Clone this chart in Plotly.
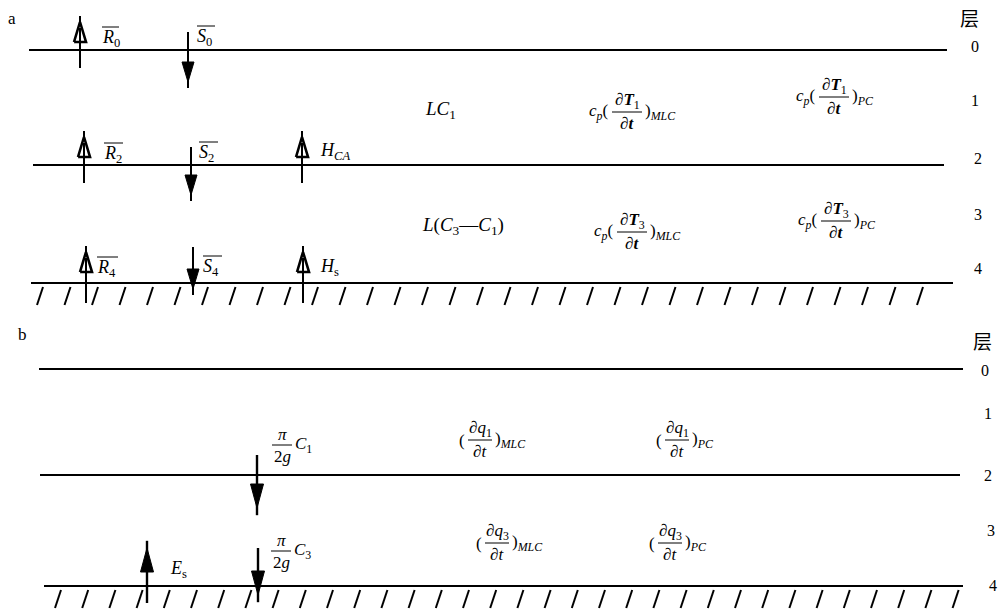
import plotly.graph_objects as go

FIG_W, FIG_H = 1004, 611
SERIF = "Liberation Serif"
CJK = "Noto Sans CJK SC"

# ---------------- panel a ----------------
a_line_y = [50, 165, 283]
a_line_x0 = [29, 33, 31]
a_line_x1 = [947, 944, 953]
a_hatch_start, a_hatch_end, a_hatch_step = 40, 945, 27.5
a_hatch_top, a_hatch_bot = 287, 305

a_layer_text = ["层", "0", "1", "2", "3", "4"]
a_layer_x = [969, 975, 975, 978, 978, 978]
a_layer_y = [17, 46, 100, 158, 214, 268]

a_arrow_x = [80, 188, 84, 191, 302, 86, 193, 303]
a_arrow_tail = [68, 32, 183, 147, 183, 303, 247, 303]
a_arrow_tip = [22, 82, 137, 195, 137, 252, 289, 252]
a_arrow_fill = ["white", "black", "white", "black", "white", "white", "black", "white"]

a_sym_text = ["<i>R</i><sub>0</sub>", "<i>S</i><sub>0</sub>", "<i>R</i><sub>2</sub>",
              "<i>S</i><sub>2</sub>", "<i>H</i><sub><i>CA</i></sub>", "<i>R</i><sub>4</sub>",
              "<i>S</i><sub>4</sub>", "<i>H</i><sub>s</sub>"]
a_sym_x = [100, 195, 102, 197, 318, 95, 201, 318]
a_sym_y = [38, 37, 154, 153, 151, 268, 267, 267]
a_sym_bar = [True, True, True, True, False, True, True, False]
a_bar_len = [17, 18, 19, 19, 0, 21, 19, 0]

a_plain_text = ["<i>LC</i><sub>1</sub>", "<i>L</i>(<i>C</i><sub>3</sub>—<i>C</i><sub>1</sub>)"]
a_plain_x = [423, 420]
a_plain_y = [110, 226]

a_frac_pre = ["<i>c</i><sub><i>p</i></sub>(", "<i>c</i><sub><i>p</i></sub>(",
              "<i>c</i><sub><i>p</i></sub>(", "<i>c</i><sub><i>p</i></sub>("]
a_frac_num = ["<b><i>∂T</i></b><sub>1</sub>", "<b><i>∂T</i></b><sub>3</sub>",
              "<b><i>∂T</i></b><sub>1</sub>", "<b><i>∂T</i></b><sub>3</sub>"]
a_frac_den = ["<b><i>∂t</i></b>"] * 4
a_frac_suf = [")<sub><i>MLC</i></sub>", ")<sub><i>MLC</i></sub>",
              ")<sub><i>PC</i></sub>", ")<sub><i>PC</i></sub>"]
a_frac_x = [627, 632, 834, 836]
a_frac_y = [112, 232, 97, 221]

# ---------------- panel b ----------------
b_line_y = [369, 475, 586]
b_line_x0 = [39, 40, 44]
b_line_x1 = [963, 960, 963]
b_hatch_start, b_hatch_end, b_hatch_step = 58, 960, 27.2
b_hatch_top, b_hatch_bot = 590, 608

b_layer_text = ["层", "0", "1", "2", "3", "4"]
b_layer_x = [982, 985, 988, 988, 991, 993]
b_layer_y = [340, 370, 413, 475, 530, 585]

b_arrow_x = [257, 258, 147]
b_arrow_tail = [455, 548, 603]
b_arrow_tip = [508, 595, 548]

b_frac_pre = ["", "", "(", "(", "(", "("]
b_frac_num = ["<i>π</i>", "<i>π</i>", "<i>∂q</i><sub>1</sub>", "<i>∂q</i><sub>1</sub>",
              "<i>∂q</i><sub>3</sub>", "<i>∂q</i><sub>3</sub>"]
b_frac_den = ["2<i>g</i>", "2<i>g</i>", "<i>∂t</i>", "<i>∂t</i>", "<i>∂t</i>", "<i>∂t</i>"]
b_frac_suf = ["<i>C</i><sub>1</sub>", "<i>C</i><sub>3</sub>",
              ")<sub><i>MLC</i></sub>", ")<sub><i>PC</i></sub>",
              ")<sub><i>MLC</i></sub>", ")<sub><i>PC</i></sub>"]
b_frac_x = [282, 281, 480, 677, 497, 670]
b_frac_y = [445, 551, 440, 440, 543, 543]
b_frac_w = [20, 20, 24, 24, 24, 24]

b_sym_text = ["<i>E</i><sub>s</sub>"]
b_sym_x = [168]
b_sym_y = [569]

panel_labels = ["a", "b"]
panel_label_x = [12, 22]
panel_label_y = [18, 334]

fig = go.Figure()
annotations = []


def add_lines(xs, ys, width=2.2):
    fig.add_trace(go.Scatter(x=xs, y=ys, mode="lines",
                             line=dict(color="black", width=width),
                             hoverinfo="skip", showlegend=False))


def hatch(start, end, step, top, bot):
    xs, ys = [], []
    x = start
    while x <= end:
        xs += [x - 3, x + 3, None]
        ys += [bot, top, None]
        x += step
    add_lines(xs, ys, 2.0)


def arrow(x, tail, tip, fill, w=12, hl=20, lw=2.0):
    add_lines([x, x], [tail, tip - (hl * 0.3 if tip < tail else -hl * 0.3)], lw)
    sgn = 1 if tip < tail else -1
    base = tip + sgn * hl
    fig.add_trace(go.Scatter(x=[x - w / 2, x, x + w / 2, x - w / 2],
                             y=[base, tip, base, base], mode="lines",
                             fill="toself", fillcolor=fill,
                             line=dict(color="black", width=2.6 if fill == "white" else 1),
                             hoverinfo="skip", showlegend=False))
    if fill == "white":
        add_lines([x, x], [base, tip + sgn * 6], 2.0)


def text(t, x, y, size=16, xanchor="left", font=SERIF):
    annotations.append(dict(x=x, y=y, text=t, showarrow=False, xanchor=xanchor,
                            yanchor="middle", font=dict(family=font, size=size, color="black")))


def frac(pre, num, den, suf, xc, yc, w, size=15):
    add_lines([xc - w / 2, xc + w / 2], [yc, yc], 1.0)
    text(num, xc, yc - 11, size, "center")
    text(den, xc, yc + 11, size, "center")
    if pre:
        text(pre, xc - w / 2 - 1, yc, size, "right")
    if suf:
        text(suf, xc + w / 2 + 1, yc, size, "left")


# panel a structure
for x0, x1, y in zip(a_line_x0, a_line_x1, a_line_y):
    add_lines([x0, x1], [y, y], 2.2)
hatch(a_hatch_start, a_hatch_end, a_hatch_step, a_hatch_top, a_hatch_bot)
for x, t0, t1, f in zip(a_arrow_x, a_arrow_tail, a_arrow_tip, a_arrow_fill):
    arrow(x, t0, t1, f)
for t, x, y, bar, bl in zip(a_sym_text, a_sym_x, a_sym_y, a_sym_bar, a_bar_len):
    text(t, x, y, 18)
    if bar:
        add_lines([x + 2, x + 2 + bl], [y - 11, y - 11], 1.0)
for t, x, y in zip(a_plain_text, a_plain_x, a_plain_y):
    text(t, x, y, 19)
for p, n, d, s, x, y in zip(a_frac_pre, a_frac_num, a_frac_den, a_frac_suf, a_frac_x, a_frac_y):
    frac(p, n, d, s, x, y, 30, 17)
for t, x, y in zip(a_layer_text, a_layer_x, a_layer_y):
    text(t, x, y, 19 if t == "层" else 16, "center", CJK if t == "层" else SERIF)

# panel b structure
for x0, x1, y in zip(b_line_x0, b_line_x1, b_line_y):
    add_lines([x0, x1], [y, y], 2.2)
hatch(b_hatch_start, b_hatch_end, b_hatch_step, b_hatch_top, b_hatch_bot)
for x, t0, t1 in zip(b_arrow_x, b_arrow_tail, b_arrow_tip):
    arrow(x, t0, t1, "black", w=13, hl=24, lw=2.4)
for p, n, d, s, x, y, w in zip(b_frac_pre, b_frac_num, b_frac_den, b_frac_suf,
                               b_frac_x, b_frac_y, b_frac_w):
    frac(p, n, d, s, x, y, w, 17)
for t, x, y in zip(b_sym_text, b_sym_x, b_sym_y):
    text(t, x, y, 18)
for t, x, y in zip(b_layer_text, b_layer_x, b_layer_y):
    text(t, x, y, 19 if t == "层" else 16, "center", CJK if t == "层" else SERIF)

for t, x, y in zip(panel_labels, panel_label_x, panel_label_y):
    text(t, x, y, 17, "center")

fig.update_layout(
    width=FIG_W, height=FIG_H,
    margin=dict(l=0, r=0, t=0, b=0),
    paper_bgcolor="white", plot_bgcolor="white",
    xaxis=dict(range=[0, FIG_W], visible=False, fixedrange=True),
    yaxis=dict(range=[FIG_H, 0], visible=False, fixedrange=True),
    annotations=annotations,
    hovermode=False,
    showlegend=False,
)

fig.write_html("out.html", config={"displayModeBar": False},
               post_script="document.body.style.margin='0';document.body.style.overflow='hidden';")
